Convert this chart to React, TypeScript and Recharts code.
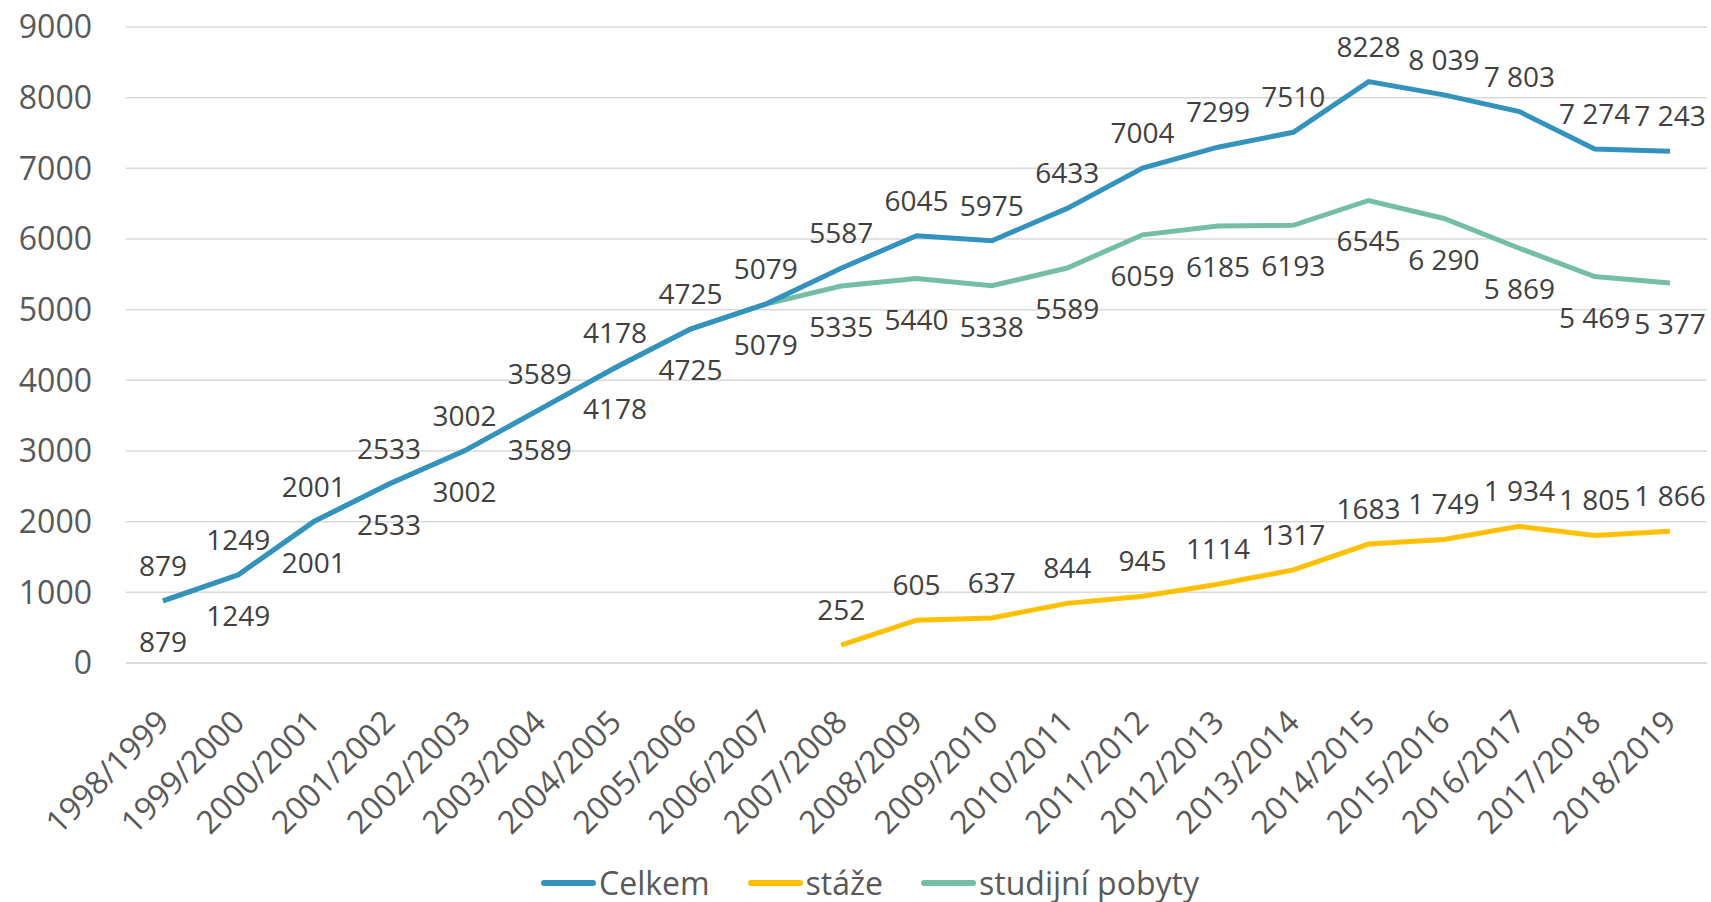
import { LineChart, Line, XAxis, YAxis, CartesianGrid, LabelList } from 'recharts';

// school years on the x axis
const years = [
  '1998/1999', '1999/2000', '2000/2001', '2001/2002', '2002/2003', '2003/2004', '2004/2005',
  '2005/2006', '2006/2007', '2007/2008', '2008/2009', '2009/2010', '2010/2011', '2011/2012',
  '2012/2013', '2013/2014', '2014/2015', '2015/2016', '2016/2017', '2017/2018', '2018/2019',
];

const celkem = [879, 1249, 2001, 2533, 3002, 3589, 4178, 4725, 5079, 5587, 6045, 5975, 6433, 7004, 7299, 7510, 8228, 8039, 7803, 7274, 7243];
const staze = [null, null, null, null, null, null, null, null, null, 252, 605, 637, 844, 945, 1114, 1317, 1683, 1749, 1934, 1805, 1866];
const studijni = [879, 1249, 2001, 2533, 3002, 3589, 4178, 4725, 5079, 5335, 5440, 5338, 5589, 6059, 6185, 6193, 6545, 6290, 5869, 5469, 5377];

// data labels as printed in the source (some with a space separator)
const celkemLabels = ['879', '1249', '2001', '2533', '3002', '3589', '4178', '4725', '5079', '5587', '6045', '5975', '6433', '7004', '7299', '7510', '8228', '8 039', '7 803', '7 274', '7 243'];
const stazeLabels = ['', '', '', '', '', '', '', '', '', '252', '605', '637', '844', '945', '1114', '1317', '1683', '1 749', '1 934', '1 805', '1 866'];
const studijniLabels = ['879', '1249', '2001', '2533', '3002', '3589', '4178', '4725', '5079', '5335', '5440', '5338', '5589', '6059', '6185', '6193', '6545', '6 290', '5 869', '5 469', '5 377'];

const yTicks = [0, 1000, 2000, 3000, 4000, 5000, 6000, 7000, 8000, 9000];

const series = [
  { key: 'celkem', name: 'Celkem', color: '#3393BC' },
  { key: 'staze', name: 'stáže', color: '#FFC000' },
  { key: 'studijni', name: 'studijní pobyty', color: '#75BEA6' },
];

const data = years.map((year, i) => ({
  year,
  celkem: celkem[i],
  staze: staze[i],
  studijni: studijni[i],
  celkemLabel: celkemLabels[i],
  stazeLabel: stazeLabels[i],
  studijniLabel: studijniLabels[i],
}));

const FONT = '"Open Sans", Lato, sans-serif';

const makeLabel = (dy: number) => (props: any) => {
  const { x, y, value } = props;
  if (!value || y == null) return null;
  return (
    <text x={x} y={y + dy} textAnchor="middle" dominantBaseline="central"
      fill="#404040" fontSize={28} fontFamily={FONT}>
      {value}
    </text>
  );
};

const XTick = (props: any) => {
  const { x, y, payload } = props;
  const tx = x + 8;
  const ty = y + 53;
  return (
    <text x={tx} y={ty} textAnchor="end" transform={`rotate(-45, ${tx}, ${ty})`}
      fill="#595959" fontSize={32} fontFamily={FONT}>
      {payload.value}
    </text>
  );
};

export default function App() {
  return (
    <div style={{ position: 'absolute', left: 0, top: 0, width: 1711, height: 902, background: '#fff' }}>
      <LineChart width={1711} height={902} data={data} margin={{ top: 27, right: 4, left: 0, bottom: 0 }}>
        <CartesianGrid vertical={false} stroke="#D9D9D9" strokeWidth={1.5} />
        <XAxis dataKey="year" axisLine={{ stroke: '#D9D9D9', strokeWidth: 1.5 }} tickLine={false}
          interval={0} height={239} padding={{ left: 37, right: 37 }} tick={<XTick />} />
        <YAxis width={126} domain={[0, 9000]} ticks={yTicks} axisLine={false} tickLine={false}
          tickMargin={28} tick={{ fill: '#595959', fontSize: 32, fontFamily: FONT }} />
        <Line dataKey="studijni" stroke="#75BEA6" strokeWidth={5} dot={false} isAnimationActive={false}>
          <LabelList dataKey="studijniLabel" content={makeLabel(40)} />
        </Line>
        <Line dataKey="celkem" stroke="#3393BC" strokeWidth={5} dot={false} isAnimationActive={false}>
          <LabelList dataKey="celkemLabel" content={makeLabel(-36)} />
        </Line>
        <Line dataKey="staze" stroke="#FFC000" strokeWidth={5} dot={false} isAnimationActive={false}>
          <LabelList dataKey="stazeLabel" content={makeLabel(-36)} />
        </Line>
      </LineChart>
      <div style={{ position: 'absolute', left: 541, top: 866, height: 34, display: 'flex', alignItems: 'center',
        fontFamily: FONT, fontSize: 32, lineHeight: '32px', color: '#595959', whiteSpace: 'nowrap' }}>
        {series.map((s, i) => (
          <div key={s.key} style={{ display: 'flex', alignItems: 'center', marginRight: i < series.length - 1 ? 38 : 0 }}>
            <span style={{ display: 'inline-block', width: 55, height: 6, borderRadius: 3, background: s.color, marginRight: 3 }} />
            <span>{s.name}</span>
          </div>
        ))}
      </div>
    </div>
  );
}
